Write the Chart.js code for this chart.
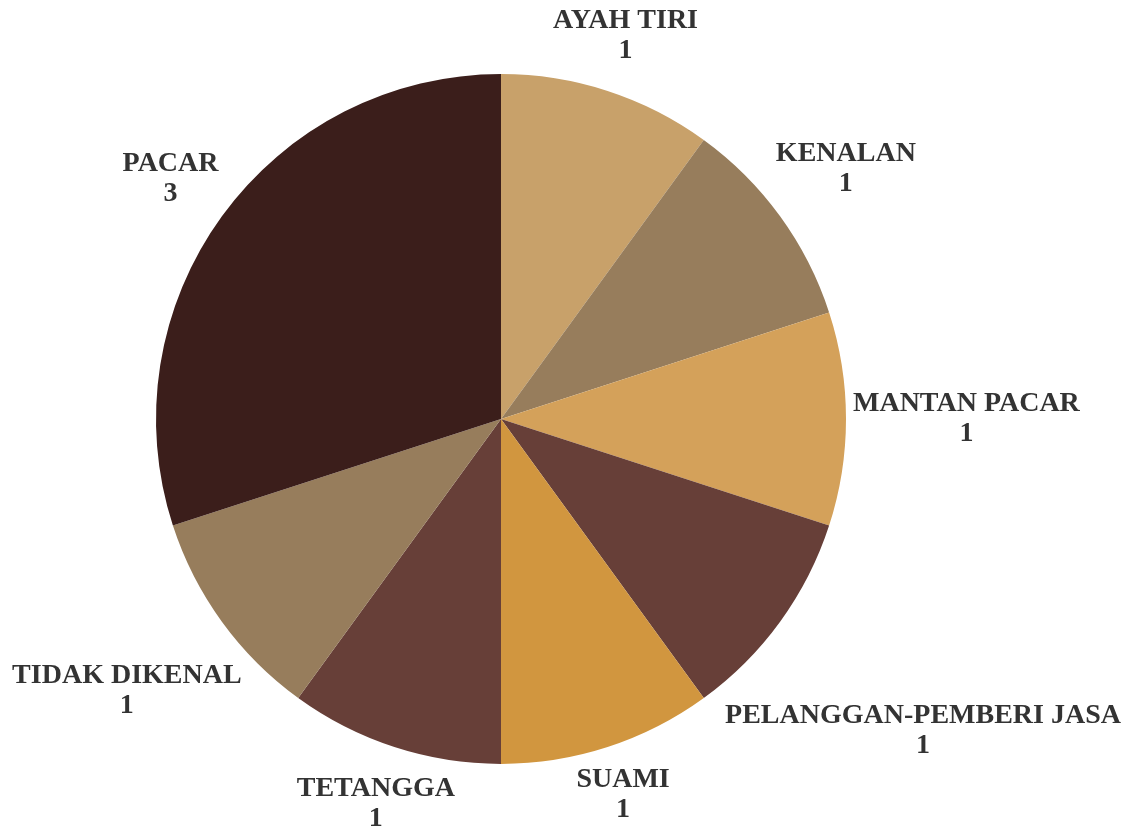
<!DOCTYPE html>
<html>
<head>
<meta charset="utf-8">
<script src="https://cdn.jsdelivr.net/npm/chart.js@4"></script>
<style>
	html, body { margin: 0; padding: 0; background: #fff; }
	#wrap { width: 1125px; height: 826px; }
</style>
</head>
<body>
<div id="wrap"><canvas id="chart" width="1125" height="826"></canvas></div>
<script>
const labels = ["AYAH TIRI", "KENALAN", "MANTAN PACAR", "PELANGGAN-PEMBERI JASA", "SUAMI", "TETANGGA", "TIDAK DIKENAL", "PACAR"];
const values = [1, 1, 1, 1, 1, 1, 1, 3];
const colors = ["#C8A16A", "#977D5C", "#D4A15A", "#673F38", "#D1963F", "#673F38", "#977D5C", "#3B1E1B"];

const FONT = "bold 28px 'Liberation Serif', 'Times New Roman', serif";
const LINE = 30;

// outside-end labels: name on top, value below, kept inside the canvas
const outsideLabels = {
	id: "outsideLabels",
	afterDatasetsDraw(chart) {
		const ctx = chart.ctx;
		const meta = chart.getDatasetMeta(0);
		ctx.save();
		ctx.font = FONT;
		ctx.fillStyle = "#333333";
		ctx.textAlign = "center";
		ctx.textBaseline = "middle";
		meta.data.forEach((arc, i) => {
			const mid = (arc.startAngle + arc.endAngle) / 2;
			const ux = Math.cos(mid);
			const uy = Math.sin(mid);
			const w = Math.max(ctx.measureText(labels[i]).width, ctx.measureText(String(values[i])).width);
			const hw = w / 2;
			const hh = LINE;
			const dist = arc.outerRadius + 7 + Math.abs(ux) * hw + Math.abs(uy) * hh;
			let cx = arc.x + ux * dist;
			const cy = arc.y + uy * dist;
			cx = Math.min(Math.max(cx, hw + 4), chart.width - hw - 4);
			ctx.fillText(labels[i], cx, cy - LINE / 2);
			ctx.fillText(String(values[i]), cx, cy + LINE / 2);
		});
		ctx.restore();
	}
};

const ctx = document.getElementById("chart").getContext("2d");
const myChart = new Chart(ctx, {
	type: "pie",
	data: {
		labels: labels,
		datasets: [
			{
				data: values,
				backgroundColor: colors,
				borderWidth: 0,
			},
		],
	},
	options: {
		responsive: false,
		animation: false,
		layout: { padding: { left: 156, right: 279, top: 74, bottom: 62 } },
		plugins: {
			legend: { display: false },
			tooltip: { enabled: false },
		},
	},
	plugins: [outsideLabels],
});
</script>
</body>
</html>
